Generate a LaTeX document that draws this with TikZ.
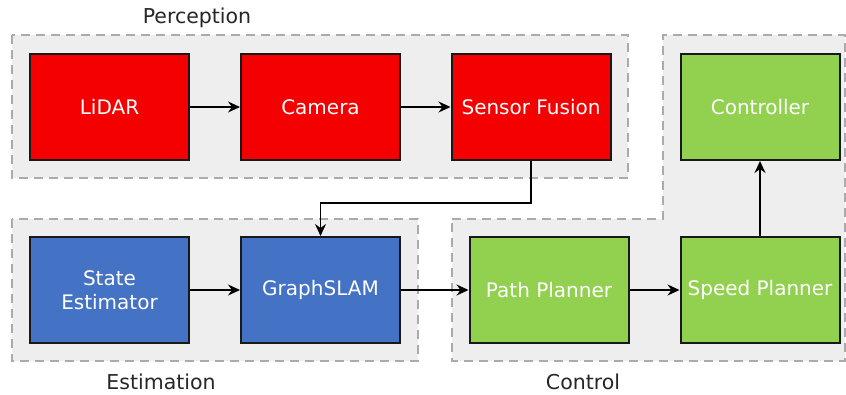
\documentclass[tikz,border=0pt]{standalone}
\usepackage{fontspec}
\setmainfont{DejaVu Sans}
\usetikzlibrary{arrows.meta}
\definecolor{redbox}{HTML}{F40000}
\definecolor{bluebox}{HTML}{4472C4}
\definecolor{greenbox}{HTML}{92D050}
\definecolor{grpfill}{HTML}{EEEEEE}
\definecolor{grpline}{HTML}{ABABAB}
\tikzset{
  blk/.style={draw=black!90, line width=2pt, minimum width=159pt, minimum height=106pt,
    inner sep=0pt, text=white, font=\fontsize{20}{24}\selectfont, align=center},
  redblk/.style={blk, fill=redbox},
  blueblk/.style={blk, fill=bluebox},
  greenblk/.style={blk, fill=greenbox},
  grp/.style={draw=grpline, fill=grpfill, line width=1.6pt, dash pattern=on 9pt off 6pt},
  grplabel/.style={font=\fontsize{20.5}{24}\selectfont, text=black!85, inner sep=0pt},
  arr/.style={draw=black, line width=1.4pt, -{Stealth[length=12pt,width=11pt,inset=4pt]}}
}
\begin{document}
\begin{tikzpicture}[x=1pt,y=-1pt]
\useasboundingbox (0,0) rectangle (846,394);
% groups
\path[grp] (12,35) rectangle (628,178);
\path[grp] (12,219) rectangle (418,361);
\path[grp] (452,219) -- (663,219) -- (663,35) -- (845,35) -- (845,361) -- (452,361) -- cycle;
% group labels
\node[grplabel] (lperc) at (197,18) {Perception};
\node[grplabel] (lest) at (161,382) {Estimation};
\node[grplabel] (lctl) at (583,382) {Control};
% blocks
\node[redblk] (lidar) at (109.5,107) {LiDAR};
\node[redblk] (cam) at (320.5,107) {Camera};
\node[redblk] (sf) at (531,107) {Sensor Fusion};
\node[greenblk] (ctl) at (760,107) {Controller};
\node[blueblk] (se) at (109.5,290) {State\\Estimator};
\node[blueblk] (gs) at (320.5,290) {GraphSLAM};
\node[greenblk] (pp) at (549,290) {Path Planner};
\node[greenblk] (sp) at (760,290) {Speed Planner};
% connectors
\draw[arr] (lidar) -- (cam);
\draw[arr] (cam) -- (sf);
\draw[arr] (sf.south) -- ++(0,42) -| (gs.north);
\draw[arr] (se) -- (gs);
\draw[arr] (gs) -- (pp);
\draw[arr] (pp) -- (sp);
\draw[arr] (sp) -- (ctl);
\end{tikzpicture}
\end{document}
